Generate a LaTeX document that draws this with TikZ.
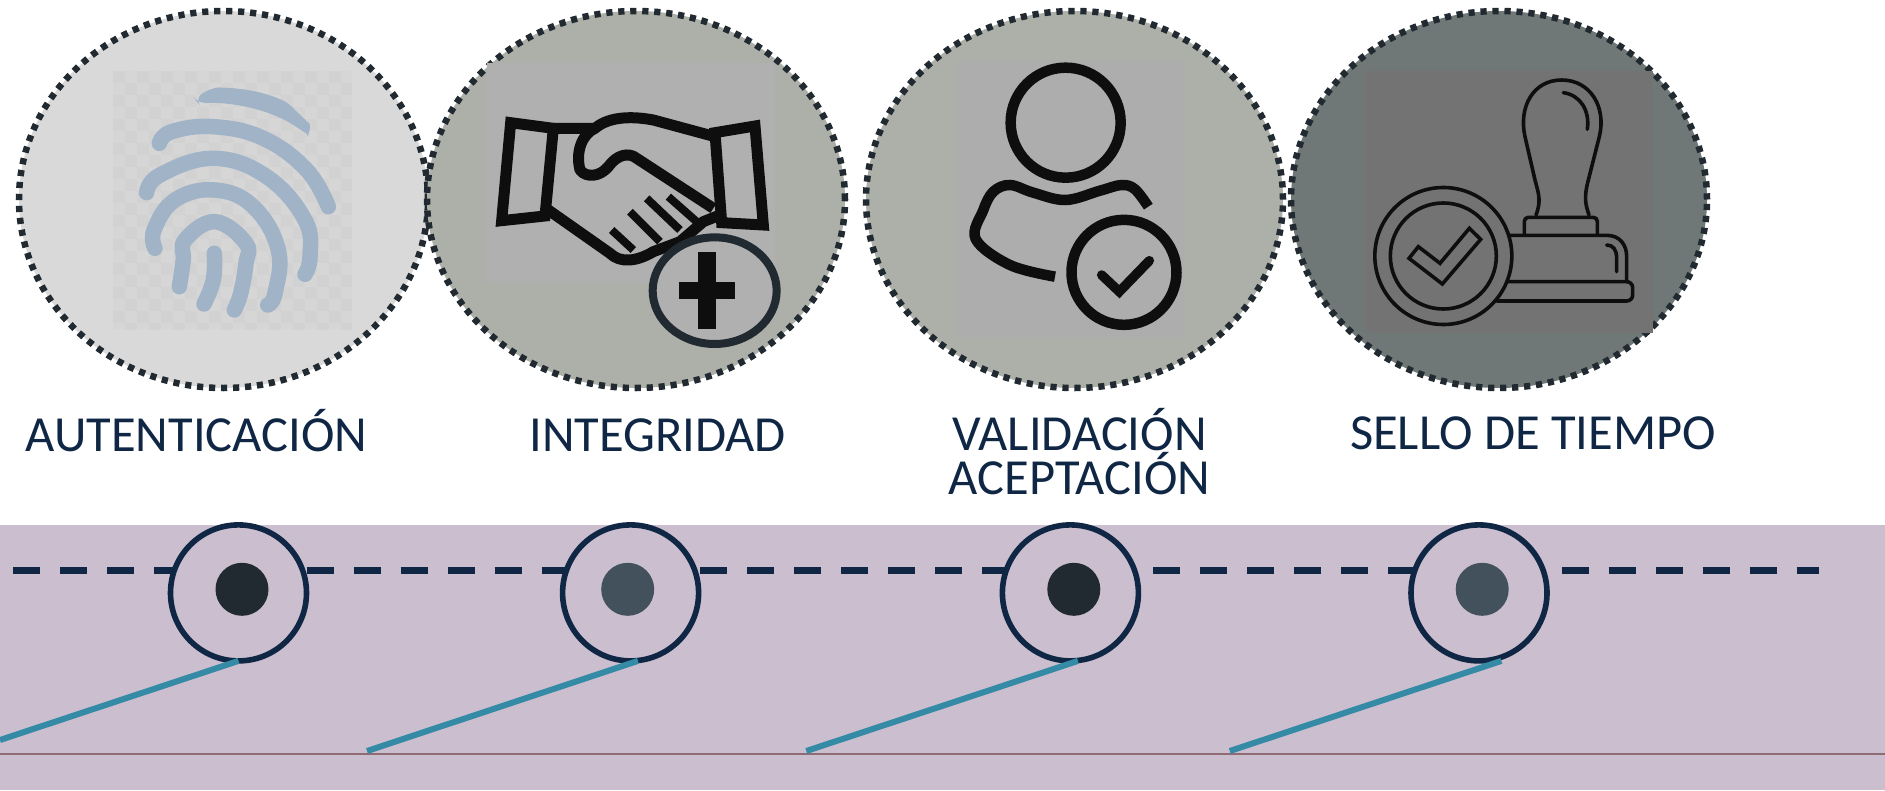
\documentclass[tikz,border=0pt]{standalone}
\usepackage{fontspec}
\setmainfont{Carlito}
\usetikzlibrary{shapes.geometric,calc}
\definecolor{navy}{HTML}{0F2744}
\definecolor{dotink}{HTML}{212A31}
\definecolor{slate}{HTML}{42515C}
\definecolor{teal2}{HTML}{358BA5}
\definecolor{band}{HTML}{CBBFCF}
\definecolor{rose}{HTML}{8F6B74}
\definecolor{fp}{HTML}{A1B3C6}
\definecolor{ink}{HTML}{0E0E0E}
\tikzset{
  bigdisc/.style={ellipse,draw=dotink,line width=6.5pt,dash pattern=on 6.2pt off 5.8pt,inner sep=0pt,outer sep=0pt,minimum height=377pt},
  ring/.style={circle,draw=navy,fill=band,line width=5.6pt,minimum size=136pt,inner sep=0pt,outer sep=0pt},
  hub/.style={circle,minimum size=53pt,inner sep=0pt,outer sep=0pt},
  label/.style={text=navy,anchor=base,inner sep=0pt,font=\fontsize{50.5}{44}\selectfont,align=center},
  dashline/.style={navy,line width=7pt,dash pattern=on 27pt off 20pt},
  tealline/.style={teal2,line width=6pt},
  fpstroke/.style={fp,line width=15.5pt,line cap=round,line join=round},
  icon/.style={ink,line width=10.5pt,line join=miter},
  hand/.style={ink,line width=11pt,line join=round},
  zoomA/.style={shift={(#1,0)},x=0.33333pt,y=-0.33333pt},
  stamp/.style={ink,line width=3.6pt,line join=round,line cap=round}
}
\begin{document}
\begin{tikzpicture}[x=1pt,y=-1pt]
\useasboundingbox (0,0) rectangle (1885,790);
% band
\fill[band] (0,525) rectangle (1885,790);
\draw[rose,line width=1.8pt] (0,754) -- (1885,754);
% large discs
\node[bigdisc,fill=black!15,minimum width=409pt] (d1) at (223.5,199.5) {};
\node[bigdisc,fill={rgb,255:red,173;green,175;blue,169},minimum width=418pt] (d2) at (636,199.5) {};
\node[bigdisc,fill={rgb,255:red,173;green,175;blue,169},minimum width=417pt] (d3) at (1074.5,199.5) {};
\node[bigdisc,fill={rgb,255:red,111;green,120;blue,118},minimum width=416pt] (d4) at (1499,199.5) {};
% fingerprint icon
\begin{scope}[zoomA=0]
  \begin{scope}
    \clip (338,212) rectangle (1056,988);
    \fill[black!16] (338,212) rectangle (1056,988);
    \foreach \i in {0,...,19} \foreach \j in {0,...,21} {
      \pgfmathparse{int(mod(\i+\j,2))}
      \ifnum\pgfmathresult=0
        \fill[black!17.5] (338+36*\i,212+36*\j) rectangle ++(36,36);
      \fi
    }
  \end{scope}
  \fill[fp,rounded corners=8pt] (585,298) .. controls (620,270) and (650,262) .. (680,263) .. controls (780,272) and (850,295) .. (890,335) .. controls (915,358) and (930,375) .. (935,392) .. controls (925,405) and (915,398) .. (905,392) .. controls (830,340) and (720,305) .. (595,310) -- cycle;
  \draw[fpstroke] plot[smooth,tension=.7] coordinates {(478,430) (515,395) (640,380) (790,415) (920,510) (985,620)};
  \draw[fpstroke] plot[smooth,tension=.7] coordinates {(440,578) (480,525) (640,475) (800,530) (915,660) (930,770) (915,823)};
  \draw[fpstroke] plot[smooth,tension=.7] coordinates {(465,745) (462,690) (525,600) (645,570) (760,620) (835,750) (825,880) (803,915)};
  \draw[fpstroke] plot[smooth,tension=.7] coordinates {(538,860) (550,780) (555,720) (645,665) (738,730) (738,790) (722,880) (703,930)};
  \draw[fpstroke] plot[smooth,tension=.7] coordinates {(643,760) (640,840) (612,912)};
\end{scope}
% handshake icon
\begin{scope}[zoomA=420]
  \fill[black!31] (200,190) rectangle (1065,850);
  \draw[hand,line join=miter] (272,368) -- (400,385) -- (375,648) -- (245,662) -- cycle;
  \draw[hand,line join=miter] (885,398) -- (1005,378) -- (1030,675) -- (905,668) -- cycle;
  \draw[hand] (400,385) -- (525,385) .. controls (560,355) and (620,345) .. (700,360) -- (885,410);
  \draw[hand] (525,385) .. controls (490,400) and (465,450) .. (480,510) .. controls (500,535) and (540,530) .. (565,500) .. controls (590,465) and (625,455) .. (650,475) -- (880,625);
  \draw[hand] (385,630) -- (570,760) .. controls (600,790) and (650,785) .. (700,755) -- (780,725) -- (850,665) -- (900,645);
  \draw[hand,line width=8pt] (575,690) -- (640,750);
  \draw[hand,line width=8pt] (630,635) -- (720,725);
  \draw[hand,line width=8pt] (680,595) -- (780,690);
  \draw[hand,line width=8pt] (745,590) -- (830,665);
  \fill[black!31] (884,872) ellipse [x radius=186,y radius=160];
  \draw[dotink,line width=8pt] (884,872) ellipse [x radius=186,y radius=160];
  \fill[ink] (833,755) rectangle (888,988);
  \fill[ink] (777,845) rectangle (945,897);
\end{scope}
% person icon
\begin{scope}[zoomA=860]
  \fill[black!32] (290,180) rectangle (975,1010);
  \draw[icon] (617,368) circle [radius=55pt];
  \draw[icon] plot[smooth,tension=.6] coordinates {(865,620) (825,568) (785,555) (720,572) (617,600) (520,578) (450,555) (400,575) (370,630) (347,717) (450,795) (585,830)};
  \draw[icon] (792,817) circle [radius=52.5pt];
  \draw[icon,line width=9.5pt,line cap=round,line join=miter] (725,825) -- (778,875) -- (868,782);
\end{scope}
% stamp icon
\begin{scope}[zoomA=1280]
  \fill[black!55] (255,212) rectangle (1118,998);
  \draw[stamp] (768,645) .. controls (785,600) and (775,580) .. (765,540) -- (735,410) .. controls (715,320) and (760,240) .. (845,240) .. controls (930,240) and (980,320) .. (958,410) -- (925,540) .. controls (912,590) and (915,610) .. (927,645);
  \draw[stamp] (850,278) .. controls (900,285) and (930,330) .. (922,388);
  \draw[stamp,rounded corners=4pt] (733,703) -- (733,652) -- (952,652) -- (952,703);
  \draw[stamp] (690,706) -- (980,706) .. controls (1020,706) and (1040,735) .. (1040,770) -- (1040,845);
  \draw[stamp] (980,735) .. controls (1000,735) and (1010,750) .. (1010,775) -- (1010,815);
  \draw[stamp,rounded corners=6pt] (680,845) -- (1058,845) -- (1058,903) -- (650,903);
  \draw[stamp] (490,768) circle [radius=68.5pt];
  \draw[stamp] (490,768) circle [radius=53pt];
  \draw[stamp,line join=miter] (387,775) -- (415,740) -- (480,790) -- (568,685) -- (602,718) -- (487,852) -- cycle;
\end{scope}
% labels
\node[label] (l1) at (196.6,451.7) {AUTENTICACIÓN};
\node[label] (l2) at (657.7,451.7) {INTEGRIDAD};
\node[label] (l3) at (1079.5,494) {VALIDACIÓN\\ACEPTACIÓN};
\node[label] (l4) at (1533,449.5) {SELLO DE TIEMPO};
% dashed timeline free ends
\coordinate (s1) at (13.4,570.7);
\coordinate (s2) at (306.6,570.7);
\coordinate (s3) at (700,570.7);
\coordinate (s4) at (1153.4,570.7);
\coordinate (s5) at (1561.7,570.7);
\coordinate (e5) at (1819,570.7);
\node[ring,draw=none,fill=none] (c1) at (238.5,592.9) {};
\node[ring,draw=none,fill=none] (c2) at (630.6,592.9) {};
\node[ring,draw=none,fill=none] (c3) at (1070.4,592.9) {};
\node[ring,draw=none,fill=none] (c4) at (1479,592.9) {};
\draw[dashline] (s1) -- (s1 -| c1);
\draw[dashline] (s2) -- (s2 -| c2);
\draw[dashline] (s3) -- (s3 -| c3);
\draw[dashline] (s4) -- (s4 -| c4);
\draw[dashline] (s5) -- (e5);
\node[ring] at (238.5,592.9) (r1) {};
\node[ring] at (630.6,592.9) (r2) {};
\node[ring] at (1070.4,592.9) (r3) {};
\node[ring] at (1479,592.9) (r4) {};
\node[hub,fill=dotink] (h1) at (242,589.3) {};
\node[hub,fill=slate] (h2) at (627.7,589.3) {};
\node[hub,fill=dotink] (h3) at (1073.8,589.3) {};
\node[hub,fill=slate] (h4) at (1482.2,589.3) {};
% teal connectors
\coordinate (t1) at (0,740);
\coordinate (t2) at (367,751);
\coordinate (t3) at (806.3,751);
\coordinate (t4) at (1229.8,751);
\draw[tealline] (t1) -- (r1.south);
\draw[tealline] (t2) -- ($(r2.south)+(7.4,0)$);
\draw[tealline] (t3) -- ($(r3.south)+(7.6,0)$);
\draw[tealline] (t4) -- ($(r4.south)+(22.4,0)$);
\end{tikzpicture}
\end{document}
